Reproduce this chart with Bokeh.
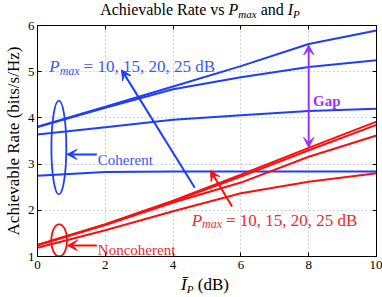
from bokeh.plotting import figure
from bokeh.layouts import column
from bokeh.models import Label, Arrow, VeeHead, FixedTicker, LinearAxis, Range1d, Div
from bokeh.embed import file_html
from bokeh.resources import INLINE

# ---------------- data ----------------
ip_db = [0, 2, 4, 6, 8, 10]
coh_pmax25 = [3.81, 4.24, 4.68, 5.12, 5.60, 5.89]
coh_pmax20 = [3.80, 4.22, 4.62, 4.88, 5.10, 5.25]
coh_pmax15 = [3.64, 3.80, 3.96, 4.06, 4.15, 4.20]
coh_pmax10 = [2.75, 2.83, 2.84, 2.84, 2.84, 2.84]
nc_pmax25 = [1.25, 1.70, 2.21, 2.77, 3.35, 3.92]
nc_pmax20 = [1.25, 1.69, 2.19, 2.73, 3.30, 3.85]
nc_pmax15 = [1.24, 1.68, 2.17, 2.60, 3.16, 3.62]
nc_pmax10 = [1.19, 1.57, 1.98, 2.37, 2.62, 2.80]
x_ticks = [0, 2, 4, 6, 8, 10]
y_ticks = [1, 2, 3, 4, 5, 6]

# ---------------- layout (page pixels) ----------------
W, H = 382, 297
TOP_H = 19                      # title block
FL, FR, FT, FB = 33, 376, 25, 256   # frame edges
BOT_Y = 276                     # x-label block starts here
MAIN_H = BOT_Y - TOP_H
BOT_H = H - BOT_Y
PXX = (FR - FL) / 10.0
PXY = (FB - FT) / 5.0
FONT = "Liberation Serif"
BLUE = "#1f3cff"
BLUE_T = "#3a58ff"
RED = "#ff0d0d"
RED_T = "#f02a2a"
PURPLE = "#9b30ff"

p = figure(width=W, height=MAIN_H, x_range=Range1d(0, 10), y_range=Range1d(1, 6),
           output_backend="svg", toolbar_location=None,
           min_border_left=FL, min_border_right=W - FR, min_border_top=FT - TOP_H,
           min_border_bottom=BOT_Y - FB,
           background_fill_color="white", border_fill_color="white")
p.outline_line_color = "black"
p.outline_line_width = 1

for ax in (p.xaxis[0], p.yaxis[0]):
    ax.major_label_text_font = FONT
    ax.major_label_text_font_size = "13px"
    ax.major_label_text_color = "black"
    ax.major_tick_in = 4
    ax.major_tick_out = 0
    ax.minor_tick_line_color = None
    ax.axis_line_color = "black"
    ax.major_label_standoff = 4
p.xaxis[0].ticker = FixedTicker(ticks=x_ticks)
p.yaxis[0].ticker = FixedTicker(ticks=y_ticks)
p.yaxis[0].major_label_standoff = 3
p.yaxis[0].axis_label = "Achievable Rate (bits/s/Hz)"
p.yaxis[0].axis_label_text_font = FONT
p.yaxis[0].axis_label_text_font_size = "17px"
p.yaxis[0].axis_label_text_font_style = "normal"
p.yaxis[0].axis_label_text_color = "black"
p.yaxis[0].axis_label_standoff = 2

# ticks on top and right (no labels)
top_ax = LinearAxis(ticker=FixedTicker(ticks=x_ticks), major_tick_in=4, major_tick_out=0,
                    minor_tick_line_color=None, axis_line_color="black",
                    major_label_overrides={t: "" for t in x_ticks}, major_label_standoff=0,
                    major_label_text_font_size="0px")
right_ax = LinearAxis(ticker=FixedTicker(ticks=y_ticks), major_tick_in=4, major_tick_out=0,
                      minor_tick_line_color=None, axis_line_color="black",
                      major_label_overrides={t: "" for t in y_ticks}, major_label_standoff=0,
                      major_label_text_font_size="0px")
p.add_layout(top_ax, "above")
p.add_layout(right_ax, "right")

for g in (p.xgrid[0], p.ygrid[0]):
    g.grid_line_color = "#a8a8a8"
    g.grid_line_dash = "1 3"
    g.grid_line_width = 1
p.xgrid[0].ticker = FixedTicker(ticks=x_ticks)
p.ygrid[0].ticker = FixedTicker(ticks=y_ticks)

# ---------------- curves ----------------
for ys in (coh_pmax25, coh_pmax20, coh_pmax15, coh_pmax10):
    p.line(ip_db, ys, line_color=BLUE, line_width=2)
for ys in (nc_pmax25, nc_pmax20, nc_pmax15, nc_pmax10):
    p.line(ip_db, ys, line_color=RED, line_width=2)

# ---------------- rich text helper (inside the axes) ----------------
REG = {' ': 250, 'A': 722, 'c': 444, 'h': 500, 'i': 278, 'e': 444, 'v': 500, 'a': 444, 'b': 500,
       'l': 278, 'R': 667, 't': 278, 's': 389, 'n': 500, 'd': 500, '(': 333, ')': 333, 'B': 667,
       '=': 564, ',': 250, '/': 278, 'H': 722, 'z': 444, 'C': 667, 'o': 500, 'r': 333, 'N': 722,
       'G': 722, 'p': 500, 'm': 778, 'x': 500, 'P': 556, 'I': 333}
ITA = {'P': 611, 'm': 722, 'a': 500, 'x': 444, 'I': 333}
BLD = {'G': 778, 'a': 500, 'p': 556}


def text_w(s, size, style):
    tab = {"normal": REG, "italic": ITA, "bold": BLD}[style]
    return sum(tab.get(ch, REG.get(ch, 500)) for ch in s) * size / 1000.0


def rich(segs, x, y, color):
    off = 0.0
    for t, sz, st, dy in segs:
        stripped = t.lstrip(" ")
        lead = text_w(t[:len(t) - len(stripped)], sz, st)
        if stripped.strip():
            p.add_layout(Label(x=x + (off + lead) / PXX, y=y - dy / PXY, text=stripped.rstrip(" "),
                               text_font=FONT, text_font_size=f"{sz}px", text_font_style=st,
                               text_color=color, text_align="left", text_baseline="alphabetic"))
        off += text_w(t, sz, st)


pm = [("P", 17, "italic", 0), ("max", 12, "italic", 4), (" = 10, 15, 20, 25 dB", 17, "normal", 0)]
rich(pm, 0.35, 5.11, BLUE_T)
rich(pm, 4.55, 1.78, RED_T)
rich([("Coherent", 15, "normal", 0)], 1.78, 3.09, BLUE_T)
rich([("Noncoherent", 15, "normal", 0)], 1.78, 1.14, RED_T)
rich([("Gap", 15, "bold", 0)], 8.13, 4.37, PURPLE)

# ellipses
p.ellipse(x=[0.63], y=[3.36], width=0.44, height=2.03, fill_color=None, line_color=BLUE, line_width=1.8)
p.ellipse(x=[0.64], y=[1.35], width=0.47, height=0.69, fill_color=None, line_color=RED, line_width=1.8)


def arrow(x0, y0, x1, y1, c, both=False):
    kw = dict(x_start=x0, y_start=y0, x_end=x1, y_end=y1, line_color=c, line_width=2,
              end=VeeHead(size=10, fill_color=c, line_color=c, line_width=1))
    kw["start"] = VeeHead(size=10, fill_color=c, line_color=c, line_width=1) if both else None
    p.add_layout(Arrow(**kw))


arrow(1.75, 3.21, 0.87, 3.21, BLUE)
arrow(1.75, 1.24, 0.88, 1.24, RED)
arrow(4.64, 2.49, 2.48, 5.04, BLUE)
arrow(5.74, 2.08, 5.10, 2.86, RED)
arrow(8.0, 3.36, 8.0, 5.58, PURPLE, both=True)

# ---------------- title and x-axis label (rich text blocks) ----------------
SUB = "font-size:11px;position:relative;top:3px;font-style:italic"
title_html = (
    f"<div style=\"width:{W}px;height:{TOP_H}px;box-sizing:border-box;padding-left:18px;"
    f"text-align:center;white-space:nowrap;font-family:'{FONT}';font-size:16px;"
    f"line-height:{TOP_H}px;color:black;overflow:visible\">"
    f"Achievable Rate vs <i>P</i><span style='{SUB}'>max</span> and <i>I</i>"
    f"<span style='{SUB}'>P</span></div>")
xlab_html = (
    f"<div style=\"width:{W}px;height:{BOT_H}px;box-sizing:border-box;padding-left:28px;"
    f"text-align:center;white-space:nowrap;font-family:'{FONT}';font-size:17px;"
    f"line-height:18px;color:black;overflow:visible\">"
    f"<i>\u012a</i><span style='{SUB}'>P</span> (dB)</div>")
title_div = Div(text=title_html, width=W, height=TOP_H, margin=0)
xlab_div = Div(text=xlab_html, width=W, height=BOT_H, margin=0)

layout = column(title_div, p, xlab_div, spacing=0)
open("out.html", "w").write(file_html(layout, INLINE))
